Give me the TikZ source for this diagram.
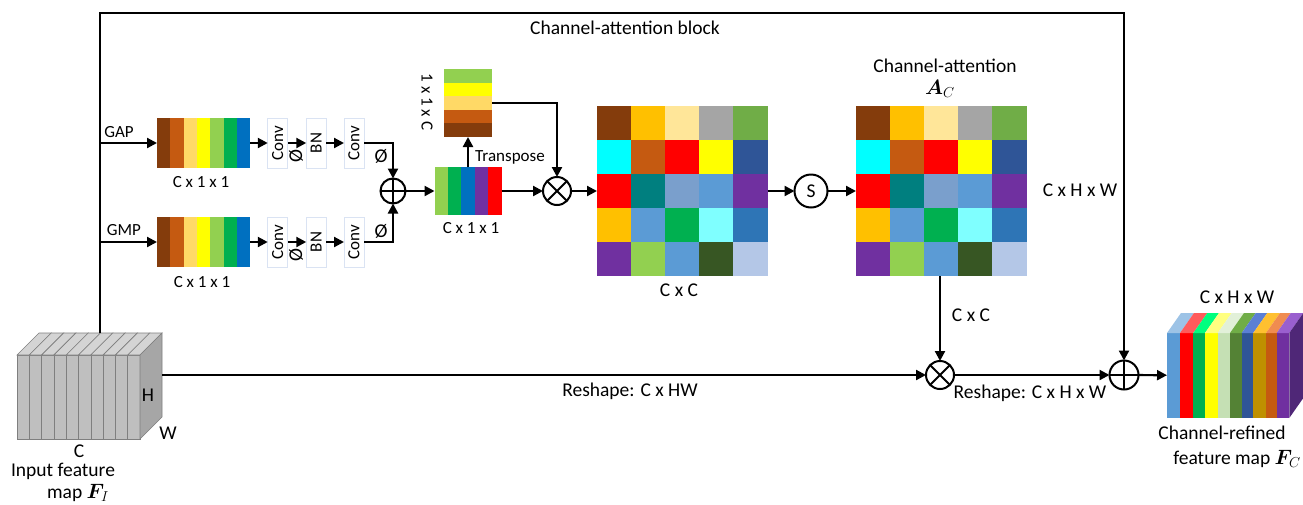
\documentclass[tikz,border=0pt]{standalone}
\usepackage{fontspec}
\setmainfont{Carlito}
\usepackage{amsmath,bm,graphicx}
\usetikzlibrary{arrows.meta,calc}
\definecolor{cBrown}{HTML}{843C0C}
\definecolor{cOrange}{HTML}{C55A11}
\definecolor{cLOrange}{HTML}{FFD966}
\definecolor{cYellow}{HTML}{FFFF00}
\definecolor{cLGreen}{HTML}{92D050}
\definecolor{cGreen}{HTML}{00B050}
\definecolor{cBlue}{HTML}{0070C0}
\definecolor{cPurple}{HTML}{7030A0}
\definecolor{cRed}{HTML}{FF0000}
\definecolor{m01}{HTML}{843C0C}\definecolor{m02}{HTML}{FFC000}\definecolor{m03}{HTML}{FFE699}\definecolor{m04}{HTML}{A5A5A5}\definecolor{m05}{HTML}{70AD47}
\definecolor{m06}{HTML}{00FFFF}\definecolor{m07}{HTML}{C55A11}\definecolor{m08}{HTML}{FF0000}\definecolor{m09}{HTML}{FFFF00}\definecolor{m10}{HTML}{2F5597}
\definecolor{m11}{HTML}{FF0000}\definecolor{m12}{HTML}{007F7F}\definecolor{m13}{HTML}{7A9FCC}\definecolor{m14}{HTML}{5B9BD5}\definecolor{m15}{HTML}{7030A0}
\definecolor{m16}{HTML}{FFC000}\definecolor{m17}{HTML}{5B9BD5}\definecolor{m18}{HTML}{00B050}\definecolor{m19}{HTML}{7FFFFF}\definecolor{m20}{HTML}{2E75B6}
\definecolor{m21}{HTML}{7030A0}\definecolor{m22}{HTML}{92D050}\definecolor{m23}{HTML}{5B9BD5}\definecolor{m24}{HTML}{375623}\definecolor{m25}{HTML}{B4C7E7}
\definecolor{o1}{HTML}{5B9BD5}\definecolor{o2}{HTML}{FF0000}\definecolor{o3}{HTML}{00B050}\definecolor{o4}{HTML}{FFFF00}\definecolor{o5}{HTML}{C5E0B4}
\definecolor{o6}{HTML}{548235}\definecolor{o7}{HTML}{2F5597}\definecolor{o8}{HTML}{BF9000}\definecolor{o9}{HTML}{C55A11}\definecolor{o10}{HTML}{7030A0}
\definecolor{t1}{HTML}{9DC3E6}\definecolor{t2}{HTML}{FF5B5B}\definecolor{t3}{HTML}{00FF7F}\definecolor{t4}{HTML}{FFFF80}\definecolor{t5}{HTML}{E2F0D9}
\definecolor{t6}{HTML}{70AD47}\definecolor{t7}{HTML}{5B7FD5}\definecolor{t8}{HTML}{FFC030}\definecolor{t9}{HTML}{F08C50}\definecolor{t10}{HTML}{9A5FCF}
\definecolor{oSide}{HTML}{4F2777}
\definecolor{cubeF}{HTML}{BFBFBF}
\definecolor{cubeT}{HTML}{D4D4D4}
\definecolor{cubeS}{HTML}{A6A6A6}
\definecolor{cubeL}{HTML}{7F7F7F}
\definecolor{boxL}{HTML}{DAE3F3}
\tikzset{
  arr/.style={line width=2.2pt,-{Triangle[length=10pt,width=10pt]}},
  ln/.style={line width=2.2pt},
  op/.style={circle,draw,line width=2pt,minimum size=27pt,inner sep=0pt,outer sep=0pt,fill=white},
  plusop/.style={op,path picture={\draw[line width=2pt] (path picture bounding box.north) -- (path picture bounding box.south) (path picture bounding box.west) -- (path picture bounding box.east);}},
  timesop/.style={op,path picture={\draw[line width=2pt] (path picture bounding box.north west) -- (path picture bounding box.south east) (path picture bounding box.south west) -- (path picture bounding box.north east);}},
  blk/.style={rectangle,inner sep=0pt,outer sep=0pt},
  cbox/.style={rectangle,draw=boxL,fill=white,line width=0.8pt,minimum width=20pt,minimum height=50pt,inner sep=0pt,outer sep=0pt,font=\fontsize{17}{19}\selectfont},
  lbl/.style={font=\fontsize{19.5}{22}\selectfont,inner sep=0pt},
  slbl/.style={font=\fontsize{17}{20}\selectfont,inner sep=0pt}
}
\begin{document}
\begin{tikzpicture}[x=1pt,y=-1pt]
\useasboundingbox (0,0) rectangle (1303,504);
\fill[white] (0,0) rectangle (1303,504);

% ---------- input cube ----------
\foreach \i in {0,...,9}{
  \pgfmathsetmacro\xa{17+12.3*\i}
  \pgfmathsetmacro\xb{17+12.3*(\i+1)}
  \filldraw[fill=cubeF,draw=cubeL,line width=0.6pt] (\xa,355) rectangle (\xb,439);
  \filldraw[fill=cubeT,draw=cubeL,line width=0.6pt] (\xa,355) -- (\xb,355) -- (\xb+22,333) -- (\xa+22,333) -- cycle;
}
\filldraw[fill=cubeS,draw=cubeL,line width=0.6pt] (140,355) -- (162,333) -- (162,417) -- (140,439) -- cycle;
\node[lbl] (lH) at (148,395) {H};
\node[lbl] (lW) at (168,433) {W};
\node[lbl] (lC) at (79,451) {C};
\node[lbl] (lin1) at (63,471) {Input feature};
\node[lbl] (lin2) at (78,493) {map $\boldsymbol{F}_{I}$};
\coordinate (inTop) at (100,333);
\coordinate (inR) at (162,375);
\coordinate (tl) at (100,13);
\coordinate (tr) at (1124,13);
\coordinate (gapS) at (100,143);
\coordinate (gmpS) at (100,242);
\node[lbl] (title) at (625,28) {Channel-attention block};

% ---------- GAP / GMP stripes ----------
\foreach \c [count=\i from 0] in {cBrown,cOrange,cLOrange,cYellow,cLGreen,cGreen,cBlue}{
  \fill[\c] (157+13.3*\i,118) rectangle ++(13.3,50);
  \fill[\c] (157+13.3*\i,217) rectangle ++(13.3,50);
}
\node[blk,minimum width=93pt,minimum height=50pt] (gap) at (203.5,143) {};
\node[blk,minimum width=93pt,minimum height=50pt] (gmp) at (203.5,242) {};
\node[slbl] (gapL) at (119,132) {GAP};
\node[slbl] (gmpL) at (124,230) {GMP};
\node[slbl] (gapD) at (201,182) {C x 1 x 1};
\node[slbl] (gmpD) at (202,282) {C x 1 x 1};

\node[cbox] (c1a) at (277.75,143) {\rotatebox{90}{Conv}};
\node[cbox] (bna) at (316.25,143) {\rotatebox{90}{BN}};
\node[cbox] (c2a) at (354,143) {\rotatebox{90}{Conv}};
\node[cbox] (c1b) at (277.75,242) {\rotatebox{90}{Conv}};
\node[cbox] (bnb) at (316.25,242) {\rotatebox{90}{BN}};
\node[cbox] (c2b) at (354,242) {\rotatebox{90}{Conv}};

\node[lbl] (phi1) at (296,156) {\rotatebox{90}{Ø}};
\node[lbl] (phi2) at (381,156) {Ø};
\node[lbl] (phi3) at (296,255) {\rotatebox{90}{Ø}};
\node[lbl] (phi4) at (381,231) {Ø};

\node[plusop,minimum size=25pt] (add1) at (393,191) {};

% ---------- block 2 and transpose ----------
\foreach \c [count=\i from 0] in {cLGreen,cGreen,cBlue,cPurple,cRed}{
  \fill[\c] (434.5+13.4*\i,167) rectangle ++(13.4,48);
}
\node[blk,minimum width=67pt,minimum height=48pt] (blk2) at (468,191) {};
\node[slbl] (blk2L) at (471,228) {C x 1 x 1};
\foreach \c [count=\i from 0] in {cLGreen,cYellow,cLOrange,cOrange,cBrown}{
  \fill[\c] (444,69+13.6*\i) rectangle ++(48,13.6);
}
\node[blk,minimum width=48pt,minimum height=68pt] (trans) at (468,103) {};
\node[slbl,rotate=-90] (transL) at (427,102) {1 x 1 x C};
\node[slbl] (transT) at (510,157) {Transpose};
\node[timesop,minimum size=28pt] (mul1) at (557,191) {};

% ---------- matrices ----------
\foreach \c [count=\i from 0] in {m01,m02,m03,m04,m05,m06,m07,m08,m09,m10,m11,m12,m13,m14,m15,m16,m17,m18,m19,m20,m21,m22,m23,m24,m25}{
  \pgfmathtruncatemacro\r{\i/5}
  \pgfmathtruncatemacro\k{\i-5*\r}
  \fill[\c] (597+34.1*\k,105.75+34.1*\r) rectangle ++(34.1,34.1);
  \fill[\c] (856+34.1*\k,105.75+34.1*\r) rectangle ++(34.1,34.1);
}
\node[blk,minimum width=170.5pt,minimum height=170.5pt] (matA) at (682.25,191) {};
\node[blk,minimum width=170.5pt,minimum height=170.5pt] (matB) at (941.25,191) {};
\node[lbl] (matAL) at (679,290) {C x C};
\node[lbl] (matBT) at (945,66) {Channel-attention};
\node[lbl] (matBA) at (940,89) {$\boldsymbol{A}_{C}$};
\node[op,minimum size=33pt,font=\fontsize{19.5}{22}\selectfont] (sig) at (811,191) {S};
\node[lbl] (chw1) at (1080,190) {C x H x W};
\node[lbl] (ccL) at (971,315) {C x C};

% ---------- bottom ----------
\node[timesop,minimum size=28pt] (mul2) at (940,375) {};
\node[plusop,minimum size=29pt] (add2) at (1124,375) {};
\node[lbl] (resh1) at (630,391) {Reshape: C x HW};
\node[lbl] (resh2) at (1030,393) {Reshape: C x H x W};

% ---------- output cube ----------
\foreach \c/\t/\xa/\xb in {o1/t1/1167/1180,o2/t2/1180/1193.3,o3/t3/1193.3/1205,o4/t4/1205/1217.7,o5/t5/1217.7/1230,o6/t6/1230/1241.7,o7/t7/1241.7/1253.3,o8/t8/1253.3/1266,o9/t9/1266/1276.7,o10/t10/1276.7/1289.3}{
  \fill[\c] (\xa,333) rectangle (\xb,418);
  \fill[\t] (\xa,333) -- (\xb,333) -- (\xb+14,313) -- (\xa+14,313) -- cycle;
}
\fill[oSide] (1289.3,333) -- (1303.3,313) -- (1303.3,398) -- (1289.3,418) -- cycle;
\node[blk,minimum width=122pt,minimum height=85pt] (outF) at (1228,375.5) {};
\node[lbl] (outT) at (1237,297) {C x H x W};
\node[lbl] (out1) at (1222,433) {Channel-refined};
\node[lbl] (out2) at (1237,459) {feature map $\boldsymbol{F}_{C}$};

% ---------- connectors ----------
\draw[arr] (inTop) -- (tl) -- (tr) -- (add2);
\draw[arr] (gapS) -- (gap);
\draw[arr] (gmpS) -- (gmp);
\draw[arr] (gap) -- (c1a);
\draw[arr] (c1a) -- (bna);
\draw[arr] (bna) -- (c2a);
\draw[arr] (c2a) -| (add1);
\draw[arr] (gmp) -- (c1b);
\draw[arr] (c1b) -- (bnb);
\draw[arr] (bnb) -- (c2b);
\draw[arr] (c2b) -| (add1);
\draw[arr] (add1) -- (blk2);
\draw[arr] (blk2) -- (trans);
\draw[arr] (trans) -| (mul1);
\draw[arr] (blk2) -- (mul1);
\draw[arr] (mul1) -- (matA);
\draw[arr] (matA) -- (sig);
\draw[arr] (sig) -- (matB);
\draw[arr] (matB.south -| mul2) -- (mul2);
\draw[arr] (inR) -- (mul2);
\draw[arr] (mul2) -- (add2);
\draw[arr] (add2) -- (outF);
\end{tikzpicture}
\end{document}
